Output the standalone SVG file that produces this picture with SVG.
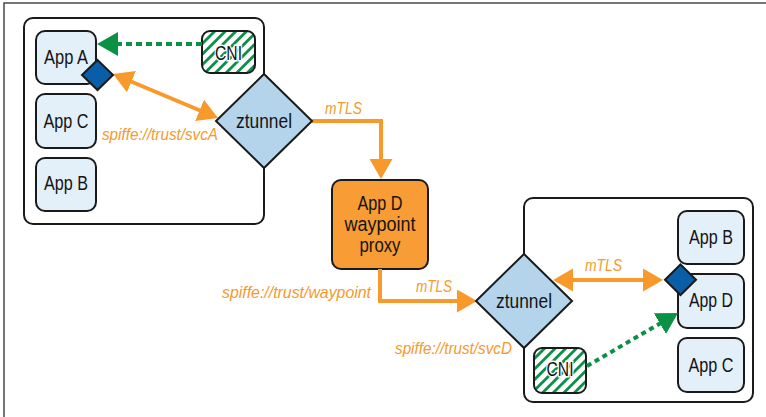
<svg xmlns="http://www.w3.org/2000/svg" width="766" height="417" viewBox="0 0 766 417">
  <style>
    .frame { fill: none; stroke: #4a4a4a; stroke-width: 1.5; }
    .host { fill: #ffffff; stroke: #1a1a1a; stroke-width: 2; }
    .app { fill: #e3eff9; stroke: #1a1a1a; stroke-width: 2; }
    .cni { fill: url(#hatch); stroke: #1a1a1a; stroke-width: 2; }
    .zt { fill: #b3d4ea; stroke: #1a1a1a; stroke-width: 2; stroke-linejoin: miter; }
    .wp { fill: #f89c35; stroke: #1a1a1a; stroke-width: 2; }
    .port { fill: #0a5ea8; stroke: #1a1a1a; stroke-width: 2; }
    .lbl { font-family: "Liberation Sans", Arial, sans-serif; font-size: 20.5px; fill: #141414; text-anchor: middle; }
    .cnit { paint-order: stroke; stroke: #ffffff; stroke-width: 3; }
    .tag { font-family: "Liberation Sans", Arial, sans-serif; font-size: 17px; font-style: italic; fill: #f7992b; }
    .mtls { fill: none; stroke: #f7992b; stroke-width: 4; }
    .cniflow { fill: none; stroke: #0a9146; stroke-width: 4; }
  </style>
  <defs>
    <pattern id="hatch" patternUnits="userSpaceOnUse" width="7.5" height="7.5" patternTransform="rotate(45)">
      <rect width="7.5" height="7.5" fill="#ffffff"/>
      <rect x="0" y="0" width="2.8" height="7.5" fill="#0a9146"/>
    </pattern>
    <marker id="ah-o" markerUnits="userSpaceOnUse" markerWidth="22" markerHeight="24" refX="16" refY="11.5" orient="auto-start-reverse">
      <path d="M0,0 L20,11.5 L0,23 Z" fill="#f7992b"/>
    </marker>
    <marker id="ah-g" markerUnits="userSpaceOnUse" markerWidth="22" markerHeight="25" refX="17" refY="12" orient="auto">
      <path d="M0,0 L21,12 L0,24 Z" fill="#0a9146"/>
    </marker>
  </defs>

  <!-- page frame -->
  <path class="frame" d="M4,417 V3 H766"/>

  <!-- host A -->
  <g id="hostA">
    <rect class="host" x="24" y="18" width="240" height="206" rx="9"/>
  </g>
  <!-- host B -->
  <g id="hostB">
    <rect class="host" x="524" y="198" width="229" height="204" rx="9"/>
  </g>

  <g id="appA">
    <rect class="app" x="36" y="31" width="60" height="53" rx="9"/>
    <text class="lbl" x="66" y="64" textLength="44" lengthAdjust="spacingAndGlyphs">App A</text>
  </g>
  <g id="appC-1">
    <rect class="app" x="36" y="94" width="60" height="54" rx="9"/>
    <text class="lbl" x="66" y="128" textLength="45" lengthAdjust="spacingAndGlyphs">App C</text>
  </g>
  <g id="appB-1">
    <rect class="app" x="36" y="158" width="60" height="53" rx="9"/>
    <text class="lbl" x="66" y="190" textLength="44" lengthAdjust="spacingAndGlyphs">App B</text>
  </g>
  <g id="cni-1">
    <rect class="cni" x="202" y="31" width="53" height="42" rx="8"/>
    <text class="lbl cnit" x="228.5" y="60" textLength="27" lengthAdjust="spacingAndGlyphs">CNI</text>
  </g>

  <g id="appB-2">
    <rect class="app" x="678" y="211" width="66" height="53" rx="9"/>
    <text class="lbl" x="711" y="244" textLength="44" lengthAdjust="spacingAndGlyphs">App B</text>
  </g>
  <g id="appD">
    <rect class="app" x="678" y="274" width="66" height="54" rx="9"/>
    <text class="lbl" x="711" y="307" textLength="44" lengthAdjust="spacingAndGlyphs">App D</text>
  </g>
  <g id="appC-2">
    <rect class="app" x="678" y="338" width="66" height="54" rx="9"/>
    <text class="lbl" x="711" y="372" textLength="45" lengthAdjust="spacingAndGlyphs">App C</text>
  </g>
  <g id="cni-2">
    <rect class="cni" x="534" y="348" width="52" height="45" rx="8"/>
    <text class="lbl cnit" x="560" y="376" textLength="27" lengthAdjust="spacingAndGlyphs">CNI</text>
  </g>

  <g id="waypoint">
    <rect class="wp" x="332" y="180" width="96" height="89" rx="9"/>
    <text class="lbl" x="380" y="210" textLength="45" lengthAdjust="spacingAndGlyphs">App D</text>
    <text class="lbl" x="380" y="231" textLength="71" lengthAdjust="spacingAndGlyphs">waypoint</text>
    <text class="lbl" x="380" y="252" textLength="41" lengthAdjust="spacingAndGlyphs">proxy</text>
  </g>

  <!-- connectors -->
  <g id="connectors">
    <path class="cniflow" d="M202,44 H101" stroke-dasharray="6 4" marker-end="url(#ah-g)"/>
    <path class="cniflow" d="M587,366 L674.6,315" stroke-dasharray="5 4" marker-end="url(#ah-g)"/>
    <path class="mtls" d="M116.7,75.5 L214.3,116.5" marker-start="url(#ah-o)" marker-end="url(#ah-o)"/>
    <path class="mtls" d="M312,121 H381 V175" marker-end="url(#ah-o)"/>
    <path class="mtls" d="M380,269 V301 H473" marker-end="url(#ah-o)"/>
    <path class="mtls" d="M557,280 H659" marker-start="url(#ah-o)" marker-end="url(#ah-o)"/>
  </g>

  <g id="ztunnel-1">
    <polygon class="zt" points="264,74 312,121 264,168 216,121"/>
    <text class="lbl" x="264" y="128" textLength="56" lengthAdjust="spacingAndGlyphs">ztunnel</text>
  </g>
  <g id="ztunnel-2">
    <polygon class="zt" points="524,254 572,301 524,348 476,301"/>
    <text class="lbl" x="524" y="308" textLength="56" lengthAdjust="spacingAndGlyphs">ztunnel</text>
  </g>

  <g id="port-A">
    <polygon class="port" points="97.5,60 113,75 97.5,90 82,75"/>
  </g>
  <g id="port-D">
    <polygon class="port" points="680.5,264.5 696,279.7 680.5,295 665,279.7"/>
  </g>

  <!-- connector labels -->
  <g id="labels">
    <text class="tag" x="102" y="140" textLength="116" lengthAdjust="spacingAndGlyphs">spiffe://trust/svcA</text>
    <text class="tag" x="325" y="114" textLength="37" lengthAdjust="spacingAndGlyphs">mTLS</text>
    <text class="tag" x="222" y="298" textLength="149" lengthAdjust="spacingAndGlyphs">spiffe://trust/waypoint</text>
    <text class="tag" x="416" y="292" textLength="36" lengthAdjust="spacingAndGlyphs">mTLS</text>
    <text class="tag" x="395" y="354" textLength="117" lengthAdjust="spacingAndGlyphs">spiffe://trust/svcD</text>
    <text class="tag" x="585" y="271" textLength="37" lengthAdjust="spacingAndGlyphs">mTLS</text>
  </g>
</svg>
